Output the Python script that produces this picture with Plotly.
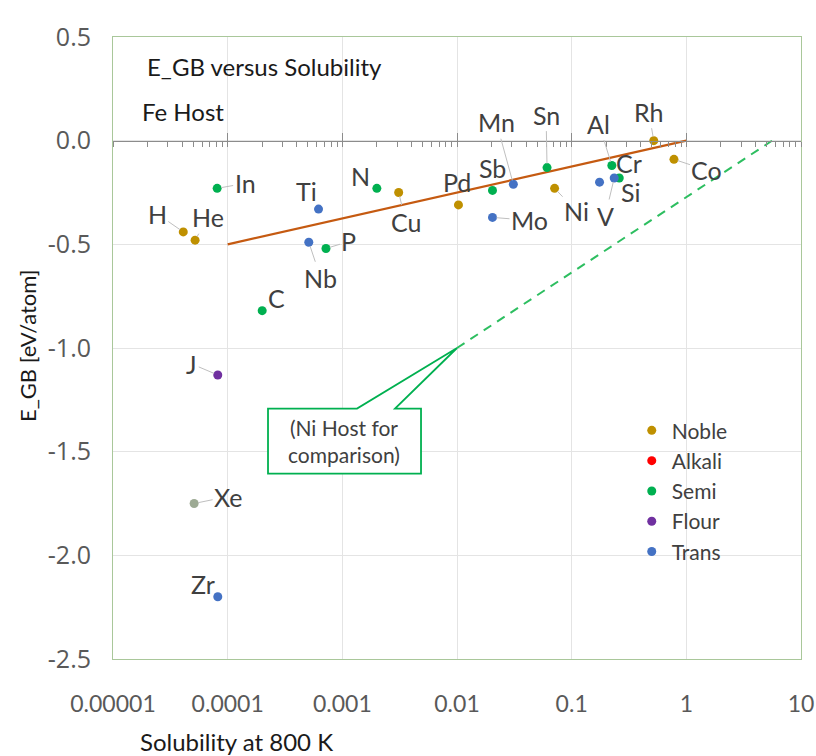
import numpy as np
import plotly.graph_objects as go

# ---------------- data ----------------
elements = ["H", "He", "In", "Ti", "Nb", "P", "C", "N", "Cu", "Pd", "Sb", "Mn",
            "Mo", "Sn", "Ni", "Al", "Cr", "V", "Si", "Rh", "Co", "J", "Xe", "Zr"]
solubility = [4.1e-5, 5.2e-5, 8.1e-5, 6.2e-4, 5.1e-4, 7.2e-4, 2.0e-4, 2.0e-3,
              3.1e-3, 0.0103, 0.0204, 0.031, 0.0204, 0.061, 0.071, 0.224,
              0.175, 0.235, 0.26, 0.52, 0.78, 8.2e-5, 5.1e-5, 8.2e-5]
e_gb = [-0.44, -0.48, -0.23, -0.33, -0.49, -0.52, -0.82, -0.23, -0.25, -0.31,
        -0.24, -0.21, -0.37, -0.13, -0.23, -0.12, -0.20, -0.18, -0.18, -0.00,
        -0.09, -1.13, -1.75, -2.20]
groups = ["Noble", "Noble", "Semi", "Trans", "Trans", "Semi", "Semi", "Semi",
          "Noble", "Noble", "Semi", "Trans", "Trans", "Semi", "Noble", "Semi",
          "Trans", "Trans", "Semi", "Noble", "Noble", "Flour", "Other", "Trans"]

legend_groups = ["Noble", "Alkali", "Semi", "Flour", "Trans"]

fe_fit_x = [1e-4, 1.0]
fe_fit_y = [-0.5, 0.0]
ni_fit_x = [0.01, 5.6]
ni_fit_y = [-1.0, 0.0]

x_tickvals = [1e-5, 1e-4, 1e-3, 1e-2, 1e-1, 1, 10]
x_ticktext = ["0.00001", "0.0001", "0.001", "0.01", "0.1", "1", "10"]
y_tickvals = [0.5, 0.0, -0.5, -1.0, -1.5, -2.0, -2.5]
y_ticktext = ["0.5", "0.0", "-0.5", "-1.0", "-1.5", "-2.0", "-2.5"]

# ---------------- style ----------------
colors = {"Noble": "#BF9000", "Alkali": "#FF0000", "Semi": "#00B050",
          "Flour": "#7030A0", "Trans": "#4472C4", "Other": "#9DAA94"}
# label offsets in pixels (dx, dy) and whether a leader line is drawn
label_pos = {
    "H": (-26, -18, True), "He": (13, -23, True), "In": (28, -5, True),
    "Ti": (-12, -18, False), "Nb": (12, 36, True), "P": (23, -7, True),
    "C": (14, -13, True), "N": (-16, -12, False), "Cu": (7, 29, True),
    "Pd": (-1, -23, False), "Sb": (0, -22, False), "Mn": (-17, -62, True),
    "Mo": (37, 3, True), "Sn": (-1, -53, True), "Ni": (22, 23, True),
    "Al": (-13, -42, True), "Cr": (29, -19, False), "V": (-9, 38, True),
    "Si": (11, 14, True), "Rh": (-5, -29, True), "Co": (33, 11, True),
    "J": (-26, -11, True), "Xe": (34, -7, True), "Zr": (-15, -13, False),
}

FONT = "Lato"
TXT = "#404040"
BORDER = "#A9C79A"
GRID = "#E4E4E4"

fig = go.Figure()

# fit lines
fig.add_trace(go.Scatter(x=fe_fit_x, y=fe_fit_y, mode="lines",
                         line=dict(color="#C55A11", width=2.2),
                         showlegend=False, hoverinfo="skip"))
fig.add_trace(go.Scatter(x=ni_fit_x, y=ni_fit_y, mode="lines",
                         line=dict(color="#2DBE60", width=2, dash="9px,7px"),
                         showlegend=False, hoverinfo="skip"))

# scatter points per group
for g in legend_groups + ["Other"]:
    xs = [s for s, gg in zip(solubility, groups) if gg == g]
    ys = [e for e, gg in zip(e_gb, groups) if gg == g]
    if not xs:
        xs, ys = [None], [None]
    fig.add_trace(go.Scatter(x=xs, y=ys, mode="markers", name=g,
                             marker=dict(color=colors[g], size=9),
                             showlegend=(g != "Other")))

annotations = []
for el, sx, ey in zip(elements, solubility, e_gb):
    dx, dy, leader = label_pos[el]
    annotations.append(dict(
        x=np.log10(sx), y=ey, xref="x", yref="y", text=el,
        showarrow=True, ax=dx, ay=dy, arrowhead=0, arrowwidth=1,
        arrowcolor="#BFBFBF" if leader else "rgba(0,0,0,0)", standoff=4,
        font=dict(family=FONT, size=25, color=TXT)))

annotations += [
    dict(x=0.046, y=0.953, xref="paper", yref="paper", text="E_GB versus Solubility",
         showarrow=False, xanchor="left", yanchor="middle",
         font=dict(family=FONT, size=24, color="#1a1a1a")),
    dict(x=0.039, y=0.880, xref="paper", yref="paper", text="Fe Host",
         showarrow=False, xanchor="left", yanchor="middle",
         font=dict(family=FONT, size=24, color="#1a1a1a")),
    dict(x=0.336, y=0.350, xref="paper", yref="paper",
         text="(Ni Host for<br>comparison)", showarrow=False,
         xanchor="center", yanchor="middle",
         font=dict(family=FONT, size=21, color=TXT)),
    # axis titles
    dict(x=(236 - 113) / 688, y=(659 - 741) / 622, xref="paper", yref="paper",
         text="Solubility at 800 K", showarrow=False, xanchor="center",
         yanchor="middle", font=dict(family=FONT, size=24, color="#1a1a1a")),
    dict(x=(27 - 113) / 688, y=(659 - 346) / 622, xref="paper", yref="paper",
         text="E_GB [eV/atom]", showarrow=False, textangle=-90,
         xanchor="center", yanchor="middle",
         font=dict(family=FONT, size=22, color="#1a1a1a")),
]

# callout box with pointer (paper coords == plot area)
bx0, bx1, by0, by1 = 0.2253, 0.4477, 0.2979, 0.4026
p1, p2 = 0.3547, 0.4099
tipx, tipy = 0.5, 0.5
path = (f"M {bx0},{by1} L {p1},{by1} L {tipx},{tipy} L {p2},{by1} "
        f"L {bx1},{by1} L {bx1},{by0} L {bx0},{by0} Z")
shapes = [dict(type="path", path=path, xref="paper", yref="paper",
               line=dict(color="#00B050", width=1.8), fillcolor="white")]

fig.update_layout(
    width=816, height=756,
    margin=dict(l=113, r=15, t=37, b=97),
    paper_bgcolor="white", plot_bgcolor="white",
    showlegend=True,
    legend=dict(x=0.754, y=0.400, xanchor="left", yanchor="top",
                bgcolor="rgba(0,0,0,0)", font=dict(family=FONT, size=21, color=TXT),
                itemwidth=30, tracegroupgap=0),
    annotations=annotations, shapes=shapes,
    xaxis=dict(type="log", range=[-5, 1], tickvals=x_tickvals, ticktext=x_ticktext,
               showgrid=True, gridcolor=GRID, gridwidth=1,
               showline=True, linecolor=BORDER, linewidth=1, mirror=True,
               ticks="", ticklabelstandoff=24, automargin=False,
               ticklabeloverflow="allow",
               tickfont=dict(family=FONT, size=23, color="#595959"),
               zeroline=False),
    xaxis2=dict(type="log", range=[-5, 1], overlaying="x", anchor="free",
                position=2.5 / 3, side="bottom", showgrid=False,
                showline=True, linecolor="#8C8C8C", linewidth=1.2,
                ticks="outside", ticklen=5, tickcolor="#8C8C8C", dtick=1,
                minor=dict(ticks="outside", ticklen=5, tickcolor="#8C8C8C",
                           dtick="D1", showgrid=False),
                showticklabels=False, zeroline=False, automargin=False),
    xaxis3=dict(type="log", range=[-5, 1], overlaying="x", anchor="free",
                position=2.5 / 3, side="bottom", showgrid=False,
                showline=False, ticks="inside", ticklen=8, tickcolor="#8C8C8C",
                dtick=1, showticklabels=False, zeroline=False, automargin=False),
    yaxis=dict(range=[-2.5, 0.5], tickvals=y_tickvals, ticktext=y_ticktext,
               showgrid=True, gridcolor=GRID, gridwidth=1,
               showline=True, linecolor=BORDER, linewidth=1, mirror=True,
               ticks="", ticklabelstandoff=16, automargin=False,
               tickfont=dict(family="Open Sans", size=25, color="#595959"),
               zeroline=False),
)

# invisible traces to activate the overlay axes
fig.add_trace(go.Scatter(x=[None], y=[None], xaxis="x2", showlegend=False, hoverinfo="skip"))
fig.add_trace(go.Scatter(x=[None], y=[None], xaxis="x3", showlegend=False, hoverinfo="skip"))

# remove the default page margin so the 816x756 figure fills the window
fig.write_html("out.html",
               config={"displayModeBar": False},
               post_script="document.body.style.margin='0px';"
                           "document.body.style.overflow='hidden';")
